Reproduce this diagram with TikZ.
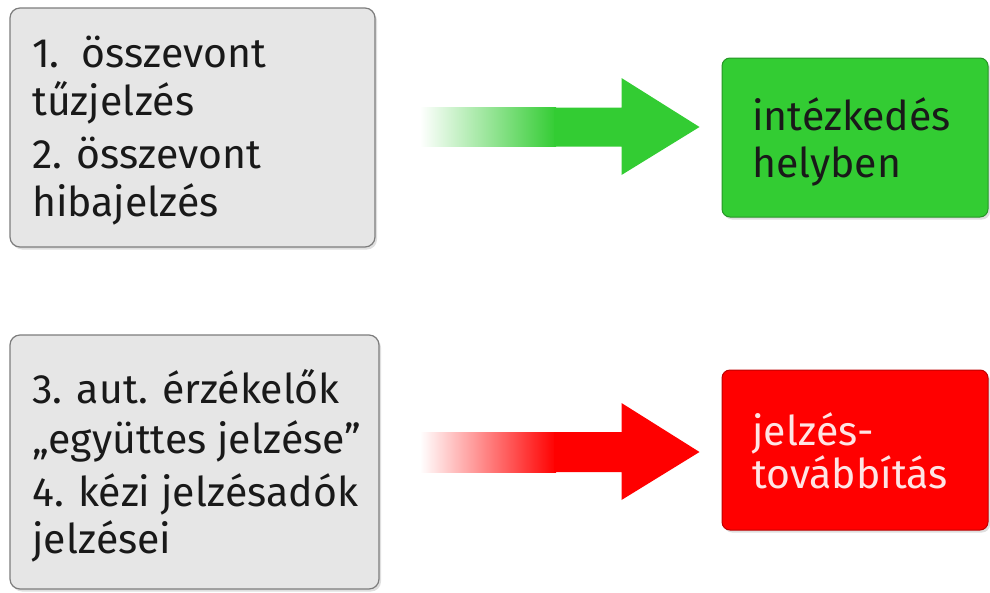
\documentclass[tikz,border=0pt]{standalone}
\usepackage{fontspec}
\setmainfont{Fira Sans}
\usetikzlibrary{shadows,calc}
\definecolor{boxgray}{RGB}{230,230,230}
\definecolor{bordergray}{RGB}{125,125,125}
\definecolor{okgreen}{RGB}{51,204,51}
\definecolor{okgreenb}{RGB}{38,150,38}
\definecolor{alarmred}{RGB}{255,0,0}
\definecolor{alarmredb}{RGB}{190,0,0}
\definecolor{txtdark}{RGB}{25,25,25}
\definecolor{txtlight}{RGB}{255,228,228}
\tikzset{
  graybox/.style={draw=bordergray, fill=boxgray, line width=1.2pt, rounded corners=10pt,
    drop shadow={shadow xshift=2pt, shadow yshift=-2.5pt, opacity=0.25}},
  greenbox/.style={draw=okgreenb, fill=okgreen, line width=1pt, rounded corners=8pt,
    drop shadow={shadow xshift=2pt, shadow yshift=-2.5pt, opacity=0.25}},
  redbox/.style={draw=alarmredb, fill=alarmred, line width=1pt, rounded corners=8pt,
    drop shadow={shadow xshift=2pt, shadow yshift=-2.5pt, opacity=0.25}},
  line/.style={anchor=base west, inner sep=0pt, font=\fontsize{41}{48}\selectfont, text=txtdark},
}
\begin{document}
\begin{tikzpicture}[x=1pt,y=-1pt]
\useasboundingbox (0,0) rectangle (990,592);
% boxes
\node[graybox, minimum width=365pt, minimum height=239pt] (b1) at (192.5,127.5) {};
\node[graybox, minimum width=369pt, minimum height=254pt] (b2) at (194.5,462) {};
\node[greenbox, minimum width=266pt, minimum height=159pt] (g) at (855,137.5) {};
\node[redbox, minimum width=266pt, minimum height=160pt] (r) at (855,450) {};
% texts of box 1
\node[line] (t1a) at (32,67) {1.\ \ összevont};
\node[line] (t1b) at (32,115) {tűzjelzés};
\node[line] (t1c) at (32,168) {2. összevont};
\node[line] (t1d) at (32,216) {hibajelzés};
% texts of box 2
\node[line] (t2a) at (32,403) {3. aut. érzékelők};
\node[line] (t2b) at (32,453) {„együttes jelzése”};
\node[line] (t2c) at (32,506) {4. kézi jelzésadók};
\node[line] (t2d) at (32,553) {jelzései};
% texts of coloured boxes
\node[line] (ga) at (752,130) {intézkedés};
\node[line] (gb) at (752,177) {helyben};
\node[line, text=txtlight] (ra) at (752,445) {jelzés-};
\node[line, text=txtlight] (rb) at (752,488) {továbbítás};
% arrows
\coordinate (gs) at (420,127);
\coordinate (gt) at ($(g.west)+(-22,-10.5)$);
\shade[left color=white, right color=okgreen] ($(gs)+(0,-19.5)$) rectangle ($(gs)+(136,19.5)$);
\fill[okgreen] ($(gs)+(134,-19.5)$) -- ($(gt)+(-78,-19.5)$) -- ($(gt)+(-78,-49)$) -- (gt)
  -- ($(gt)+(-78,48)$) -- ($(gt)+(-78,19.5)$) -- ($(gs)+(134,19.5)$) -- cycle;
\coordinate (rs) at (420,452);
\coordinate (rt) at ($(r.west)+(-22,2)$);
\shade[left color=white, right color=alarmred] ($(rs)+(0,-20)$) rectangle ($(rs)+(136,20)$);
\fill[alarmred] ($(rs)+(134,-20)$) -- ($(rt)+(-78,-20)$) -- ($(rt)+(-78,-49)$) -- (rt)
  -- ($(rt)+(-78,48)$) -- ($(rt)+(-78,20)$) -- ($(rs)+(134,20)$) -- cycle;
\end{tikzpicture}
\end{document}
